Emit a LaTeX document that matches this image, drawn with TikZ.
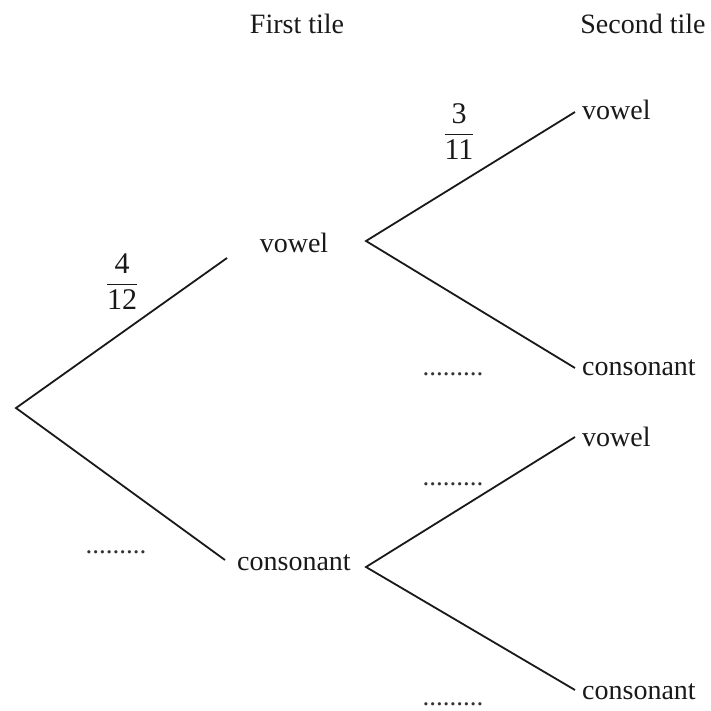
\documentclass[tikz,border=0pt]{standalone}
\usepackage{fontspec}
\setmainfont{Liberation Serif}
\begin{document}
\begin{tikzpicture}[x=1pt,y=-1pt,
  branch/.style={line width=1.8pt,draw=black!90},
  lbl/.style={inner sep=0pt,font=\fontsize{28}{30}\selectfont,text=black!90},
  blank/.style={inner sep=0pt,font=\fontsize{27}{30}\selectfont,text=black!80},
  frac/.style={inner sep=0pt,text=black!90}]
\useasboundingbox (0,0) rectangle (710,711);
% headings
\node[lbl] (h1) at (297,24) {First tile};
\node[lbl] (h2) at (643,24) {Second tile};
% branch points and branch ends
\coordinate (root) at (16,408);
\coordinate (a1) at (227,258);
\coordinate (a2) at (225,560);
\coordinate (b1) at (366,241);
\coordinate (b2) at (366,567);
\coordinate (c1) at (575,112);
\coordinate (c2) at (575,368);
\coordinate (c3) at (575,437);
\coordinate (c4) at (575,690);
% first tile
\draw[branch] (a1) -- (root) -- (a2);
\node[lbl] (v1) at (294,243) {vowel};
\node[lbl] (k1) at (294,563) {consonant};
% second tile
\draw[branch] (c1) -- (b1) -- (c2);
\draw[branch] (c3) -- (b2) -- (c4);
\node[lbl,anchor=west] (v2) at (582,110) {vowel};
\node[lbl,anchor=west] (k2) at (582,368) {consonant};
\node[lbl,anchor=west] (v3) at (582,437) {vowel};
\node[lbl,anchor=west] (k3) at (582,692) {consonant};
% probabilities
\node[frac] (p1) at (122,282) {\fontsize{30}{32}\selectfont$\displaystyle\frac{\mbox{4}\rule[-3pt]{0pt}{1pt}}{\mbox{12}\rule{0pt}{24pt}}$};
\node[frac] (p2) at (459,132) {\fontsize{30}{32}\selectfont$\displaystyle\frac{\mbox{3}\rule[-3pt]{0pt}{1pt}}{\mbox{11}\rule{0pt}{24pt}}$};
% blanks to fill in
\node[blank] (d1) at (116,552) {.........};
\node[blank] (d2) at (453,374) {.........};
\node[blank] (d3) at (453,484) {.........};
\node[blank] (d4) at (453,704) {.........};
\end{tikzpicture}
\end{document}
